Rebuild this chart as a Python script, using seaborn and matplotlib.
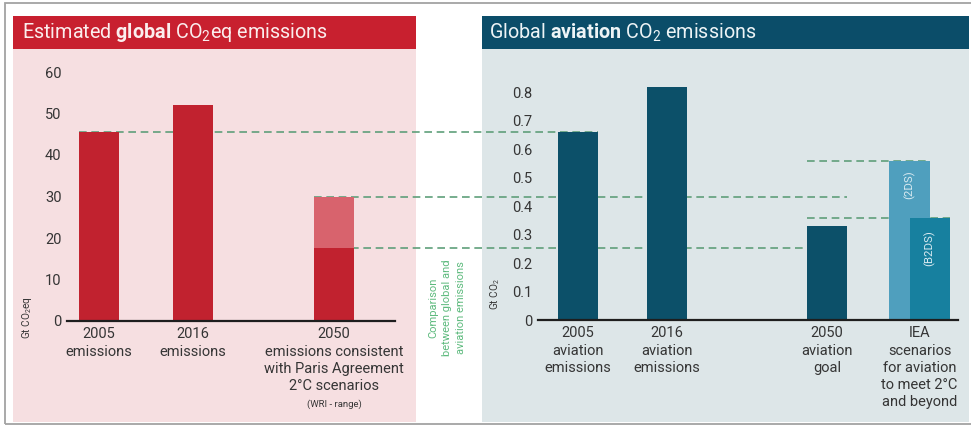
import numpy as np
import matplotlib
matplotlib.use("Agg")
import matplotlib.pyplot as plt
from matplotlib.patches import Rectangle
from matplotlib.lines import Line2D
import seaborn as sns

# ---- data -------------------------------------------------------------
global_labels = ["2005\nemissions", "2016\nemissions",
                 "2050\nemissions consistent\nwith Paris Agreement\n2°C scenarios"]
global_values = [45.5, 52.0, 30.0]          # Gt CO2eq (2050: upper end of range)
global_2050_low = 17.5                       # lower end of the WRI range
global_ticks = [0, 10, 20, 30, 40, 50, 60]

aviation_labels = ["2005\naviation\nemissions", "2016\naviation\nemissions",
                   "2050\naviation\ngoal",
                   "IEA\nscenarios\nfor aviation\nto meet 2°C\nand beyond"]
aviation_values = [0.66, 0.82, 0.33]         # Gt CO2
iea_names = ["(2DS)", "(B2DS)"]
iea_values = [0.56, 0.36]
aviation_ticks = [0, 0.1, 0.2, 0.3, 0.4, 0.5, 0.6, 0.7, 0.8]
aviation_tick_labels = ["0", "0.1", "0.2", "0.3", "0.4", "0.5", "0.6", "0.7", "0.8"]

# ---- layout (bar slots on a numeric x scale) -------------------------
left_pos = [0, 2, 5]
right_pos = [0, 2, 5.6]
iea_pos = [7.45, 7.9]

# ---- colours ----------------------------------------------------------
RED = "#c1222f"
RED_LIGHT = "#d8636d"
RED_HEAD = "#c8202f"
PINK_BG = "#f6dfe1"
TEAL = "#0c5069"
TEAL_HEAD = "#0b4d69"
BLUE_BG = "#dde6e8"
IEA_COLORS = ["#4f9fbe", "#17809f"]
DASH = "#5f9f7a"
COMP_TXT = "#5dba7d"
TXT = "#353535"

sns.set_theme(style="white")
plt.rcParams["font.family"] = ["Roboto", "DejaVu Sans"]
plt.rcParams["mathtext.fontset"] = "custom"
plt.rcParams["mathtext.rm"] = "Roboto"
plt.rcParams["mathtext.bf"] = "Roboto:bold"
plt.rcParams["mathtext.it"] = "Roboto:italic"

W, H = 971, 428
fig = plt.figure(figsize=(W / 100, H / 100), dpi=100, facecolor="white")


def fx(px):
    return px / W


def fy(py):
    return 1 - py / H


def panel(x0, y0, x1, y1, color, z):
    fig.patches.append(Rectangle((fx(x0), fy(y1)), (x1 - x0) / W, (y1 - y0) / H,
                                 transform=fig.transFigure, facecolor=color,
                                 edgecolor="none", zorder=z))


# outer frame, panel backgrounds and header bands
fig.patches.append(Rectangle((fx(5), fy(424)), (990 - 5) / W, (424 - 3) / H,
                             transform=fig.transFigure, fill=False,
                             edgecolor="#a3a3a3", linewidth=1.3, zorder=-3))
panel(13, 49, 416, 422, PINK_BG, -3)
panel(13, 16, 416, 49, RED_HEAD, -3)
panel(482, 49, 969, 422, BLUE_BG, -3)
panel(482, 16, 969, 49, TEAL_HEAD, -3)

fig.text(fx(22), fy(32.5), r"Estimated $\mathbf{global}$ CO$_2$eq emissions",
         color="#fbeeee", fontsize=14.2, va="center", ha="left")
fig.text(fx(489), fy(32.5), r"Global $\mathbf{aviation}$ CO$_2$ emissions",
         color="#eef4f6", fontsize=14.2, va="center", ha="left")

axL = fig.add_axes([fx(67), fy(321), 328 / W, 249 / H])
axR = fig.add_axes([fx(538), fy(320), 420 / W, 242 / H])


def bars(ax, pos, vals, colors, width_units):
    pos = np.asarray(pos, dtype=float)
    uniq = np.unique(pos)
    native = np.min(np.diff(uniq)) if len(uniq) > 1 else 1.0
    keys = [f"b{i}" for i in range(len(pos))]
    sns.barplot(x=pos, y=vals, hue=keys, palette=dict(zip(keys, colors)),
                native_scale=True, width=width_units / native, errorbar=None,
                saturation=1, linewidth=0, legend=False, ax=ax, zorder=2)


# global emissions
bars(axL, left_pos, global_values, [RED, RED, RED_LIGHT], 0.85)
bars(axL, [left_pos[2]], [global_2050_low], [RED], 0.85)

# aviation emissions
bars(axR, right_pos, aviation_values, [TEAL] * 3, 0.9)
bars(axR, [iea_pos[0]], [iea_values[0]], [IEA_COLORS[0]], 0.9)
bars(axR, [iea_pos[1]], [iea_values[1]], [IEA_COLORS[1]], 0.9)

axL.set_xlim(-0.68, 6.3)
axL.set_ylim(0, 60)
axR.set_xlim(-0.9, 8.54)
axR.set_ylim(0, 0.85)

for ax in (axL, axR):
    ax.patch.set_visible(False)
    for s in ("top", "right", "left"):
        ax.spines[s].set_visible(False)
    ax.spines["bottom"].set_color("#1e1e1e")
    ax.spines["bottom"].set_linewidth(1.6)
    ax.tick_params(axis="both", length=0, colors=TXT, labelsize=10.5)
    ax.tick_params(axis="y", pad=4)
    ax.tick_params(axis="x", pad=4.5)
    ax.set_xlabel("")

axL.set_yticks(global_ticks, [str(t) for t in global_ticks])
axR.set_yticks(aviation_ticks, aviation_tick_labels)
axL.set_xticks(left_pos, global_labels)
axR.set_xticks(right_pos + [np.mean(iea_pos)], aviation_labels)
for ax in (axL, axR):
    for lbl in ax.get_xticklabels():
        lbl.set_linespacing(1.3)
        lbl.set_verticalalignment("top")

axL.set_ylabel("Gt CO$_2$eq", fontsize=7.2, color=TXT)
axL.yaxis.set_label_coords(-0.122, 0.012)
axL.yaxis.label.set_va("center")
axR.set_ylabel("Gt CO$_2$", fontsize=7.2, color=TXT)
axR.yaxis.set_label_coords(-0.102, 0.105)
axR.yaxis.label.set_va("center")

axL.annotate("(WRI - range)", xy=(left_pos[2], 0),
             xycoords=("data", "axes fraction"), xytext=(0, -60),
             textcoords="offset points", ha="center", va="center",
             fontsize=6.8, color=TXT)

# scenario names inside the IEA bars
axR.text(iea_pos[0], (iea_values[0] + iea_values[1]) / 2 + 0.015, iea_names[0],
         rotation=90, ha="center", va="center", fontsize=8.2, color="#d9eaf1",
         zorder=5)
axR.text(iea_pos[1], iea_values[1] * 0.7, iea_names[1],
         rotation=90, ha="center", va="center", fontsize=8.2, color="#d9eaf1",
         zorder=5)

fig.text(fx(447), fy(308),
         "Comparison\nbetween global and\naviation emissions",
         rotation=90, ha="center", va="center", fontsize=8,
         color=COMP_TXT, linespacing=1.45)

# dashed comparison lines between both panels
to_fig = fig.transFigure.inverted()


def fig_pt(ax, x, y):
    return to_fig.transform(ax.transData.transform((x, y)))


def dashed(ax_a, xa, ax_b, xb, ax_y, yv):
    y = fig_pt(ax_y, 0, yv)[1]
    x0 = fig_pt(ax_a, xa, 0)[0]
    x1 = fig_pt(ax_b, xb, 0)[0]
    fig.lines.append(Line2D([x0, x1], [y, y], transform=fig.transFigure,
                            color=DASH, linewidth=1.2,
                            linestyle=(0, (4.6, 2.8)), zorder=-1))


lw_half, rw_half = 0.85 / 2, 0.9 / 2
dashed(axL, left_pos[0] - lw_half, axR, right_pos[0] + rw_half, axL, global_values[0])
dashed(axL, left_pos[2] - lw_half, axR, right_pos[2] + rw_half, axL, global_values[2])
dashed(axL, left_pos[2] - lw_half, axR, right_pos[2] - rw_half, axL, global_2050_low)
dashed(axR, right_pos[2] - rw_half, axR, iea_pos[0] + rw_half, axR, iea_values[0])
dashed(axR, right_pos[2] - rw_half, axR, iea_pos[1] + rw_half, axR, iea_values[1])

fig.savefig("out.png", dpi=100)
